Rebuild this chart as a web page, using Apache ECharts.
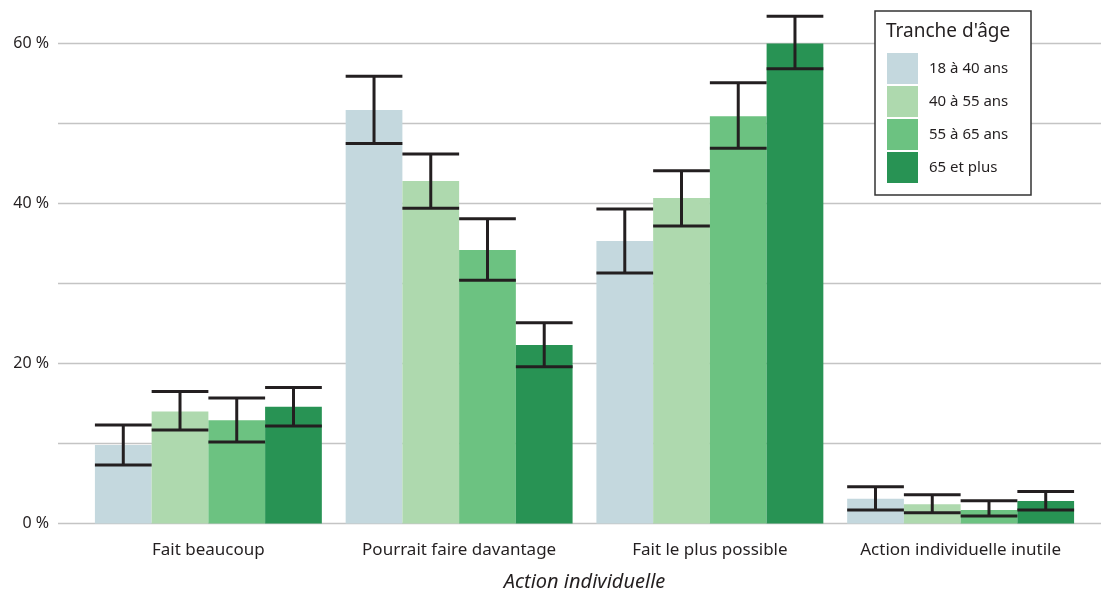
<!DOCTYPE html>
<html lang="fr">
<head>
<meta charset="utf-8">
<title>Action individuelle par tranche d'âge</title>
<script src="https://cdn.jsdelivr.net/npm/echarts@6/dist/echarts.min.js"></script>
<style>
  html, body { margin: 0; padding: 0; background: #ffffff; }
  #chart { width: 1101px; height: 595px; }
</style>
</head>
<body>
<div id="chart"></div>
<script>
// Categories on the x axis
const categories = ['Fait beaucoup', 'Pourrait faire davantage', 'Fait le plus possible', 'Action individuelle inutile'];

// Age groups (one bar series each)
const ageGroups = ['18 à 40 ans', '40 à 55 ans', '55 à 65 ans', '65 et plus'];

// Shares (%) per age group, in category order
const share18to40 = [9.8, 51.7, 35.3, 3.1];
const share40to55 = [14.0, 42.8, 40.7, 2.4];
const share55to65 = [12.9, 34.2, 50.9, 1.7];
const share65plus = [14.6, 22.3, 60.0, 2.8];

// Confidence interval bounds (%) per age group
const low18to40 = [7.3, 47.5, 31.3, 1.7];
const high18to40 = [12.3, 55.9, 39.3, 4.6];
const low40to55 = [11.7, 39.4, 37.2, 1.35];
const high40to55 = [16.5, 46.2, 44.1, 3.6];
const low55to65 = [10.2, 30.4, 46.9, 0.95];
const high55to65 = [15.7, 38.1, 55.1, 2.85];
const low65plus = [12.2, 19.6, 56.85, 1.7];
const high65plus = [17.0, 25.1, 63.4, 4.0];

// Y axis ticks
const yTicks = [0, 10, 20, 30, 40, 50, 60];
const yLabelTicks = [0, 20, 40, 60];

const colors = ['#c4d8de', '#aed9ae', '#6cc281', '#289354'];
const shares = [share18to40, share40to55, share55to65, share65plus];
const lows = [low18to40, low40to55, low55to65, low65plus];
const highs = [high18to40, high40to55, high55to65, high65plus];

const FONT = '"Noto Sans", "Open Sans", sans-serif';
const TEXT = '#231f20';
const CAT_GAP = 0.095;

// Error bar rows: [category index, group index, low, high]
const errorRows = [];
for (let g = 0; g < ageGroups.length; g++) {
  for (let c = 0; c < categories.length; c++) {
    errorRows.push([c, g, lows[g][c], highs[g][c]]);
  }
}

const chart = echarts.init(document.getElementById('chart'), null, { renderer: 'canvas' });

const yBase = {
  type: 'value',
  min: yTicks[0],
  max: yTicks[yTicks.length - 1],
  interval: yTicks[1] - yTicks[0]
};

function renderErrorBar(params, api) {
  const cat = api.value(0);
  const g = api.value(1);
  const lowPt = api.coord([cat, api.value(2)]);
  const highPt = api.coord([cat, api.value(3)]);
  const band = api.size([1, 0])[0];
  const barW = band * (1 - CAT_GAP) / ageGroups.length;
  const x = lowPt[0] + (g - (ageGroups.length - 1) / 2) * barW;
  const half = barW / 2;
  const style = { stroke: TEXT, lineWidth: 3, lineCap: 'butt' };
  return {
    type: 'group',
    children: [
      { type: 'line', shape: { x1: x, y1: highPt[1], x2: x, y2: lowPt[1] }, style: style },
      { type: 'line', shape: { x1: x - half, y1: highPt[1], x2: x + half, y2: highPt[1] }, style: style },
      { type: 'line', shape: { x1: x - half, y1: lowPt[1], x2: x + half, y2: lowPt[1] }, style: style }
    ]
  };
}

const barSeries = ageGroups.map((name, g) => ({
  name: name,
  type: 'bar',
  xAxisIndex: 1,
  yAxisIndex: 1,
  data: shares[g],
  barGap: 0,
  barCategoryGap: (CAT_GAP * 100) + '%',
  itemStyle: { color: colors[g] },
  emphasis: { disabled: true }
}));

const option = {
  animation: false,
  textStyle: { fontFamily: FONT },
  grid: [
    { left: 58, right: 0, top: 43.5, bottom: 71.5, outerBoundsMode: 'none' },
    { left: 83, width: 1003, top: 43.5, bottom: 71.5, outerBoundsMode: 'none' }
  ],
  xAxis: [
    {
      type: 'category',
      gridIndex: 0,
      data: categories,
      axisLine: { show: false },
      axisTick: { show: false },
      axisLabel: { show: false }
    },
    {
      type: 'category',
      gridIndex: 1,
      data: categories,
      axisLine: { show: false },
      axisTick: { show: false },
      axisLabel: { interval: 0, hideOverlap: false, fontSize: 17, color: TEXT, margin: 18, fontFamily: FONT },
      name: 'Action individuelle',
      nameLocation: 'middle',
      nameGap: 49,
      nameTextStyle: { fontSize: 20, fontStyle: 'italic', color: TEXT, fontFamily: FONT }
    }
  ],
  yAxis: [
    Object.assign({}, yBase, {
      gridIndex: 0,
      axisLine: { show: false },
      axisTick: { show: false },
      splitLine: { show: true, lineStyle: { color: '#c4c4c4', width: 1.3 } },
      axisLabel: {
        fontSize: 16,
        color: TEXT,
        margin: 9,
        fontFamily: FONT,
        formatter: v => (yLabelTicks.indexOf(v) >= 0 ? v + ' %' : '')
      }
    }),
    Object.assign({}, yBase, {
      gridIndex: 1,
      axisLine: { show: false },
      axisTick: { show: false },
      splitLine: { show: false },
      axisLabel: { show: false }
    })
  ],
  legend: {
    data: ageGroups,
    orient: 'vertical',
    left: 887,
    top: 53,
    padding: 0,
    icon: 'rect',
    itemWidth: 31,
    itemHeight: 31,
    itemGap: 2,
    selectedMode: false,
    textStyle: { fontSize: 15, color: TEXT, fontFamily: FONT, padding: [0, 0, 0, 6] },
    z: 6
  },
  graphic: [
    {
      type: 'rect',
      z: 5,
      shape: { x: 875, y: 11, width: 156, height: 184 },
      style: { fill: '#ffffff', stroke: '#333333', lineWidth: 1.5 }
    },
    {
      type: 'text',
      z: 6,
      left: 886,
      top: 22,
      style: { text: "Tranche d'âge", fontSize: 19, fill: TEXT, fontFamily: FONT }
    }
  ],
  series: barSeries.concat([
    {
      name: 'Intervalle',
      type: 'custom',
      xAxisIndex: 1,
      yAxisIndex: 1,
      data: errorRows,
      encode: { x: 0, y: [2, 3] },
      renderItem: renderErrorBar,
      clip: false,
      z: 3,
      silent: true
    }
  ])
};

chart.setOption(option);
</script>
</body>
</html>
